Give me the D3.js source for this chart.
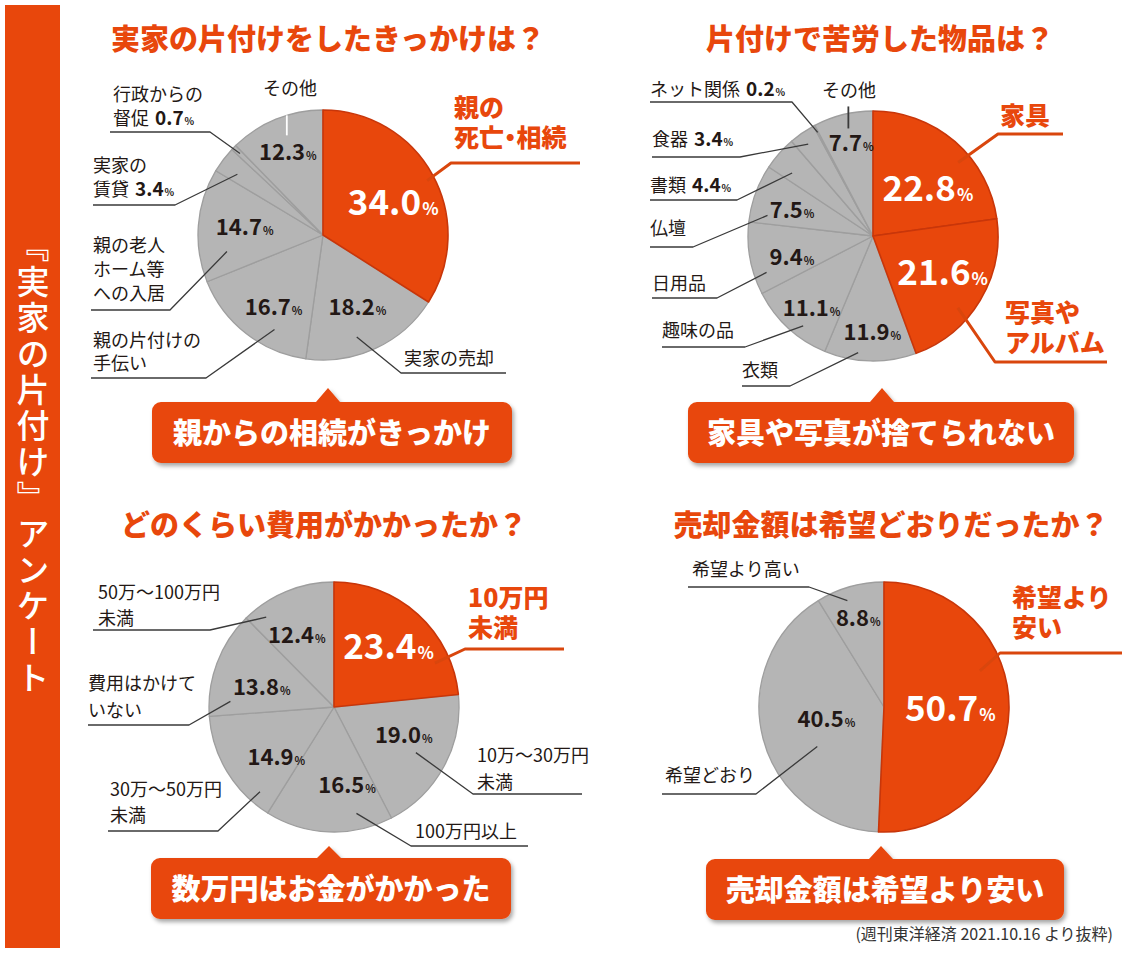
<!DOCTYPE html>
<html><head><meta charset="utf-8">
<script src="https://cdn.jsdelivr.net/npm/d3@7"></script>
<style>
html,body{margin:0;padding:0;background:#fff;}
body{position:relative;width:1125px;height:960px;overflow:hidden;}
svg{display:block;font-family:"Noto Sans CJK JP","Noto Sans",sans-serif;}
#side{position:absolute;left:5px;top:5px;width:55px;height:915px;writing-mode:vertical-rl;
  text-align:center;line-height:55px;font-family:"Noto Sans CJK JP",sans-serif;font-size:33px;
  font-weight:500;letter-spacing:3px;color:#fff;}
</style></head><body>
<svg id="c" width="1125" height="960"></svg>
<div id="side"></div>
<script>
// ---------------- data ----------------
const sideTitle = "『実家の片付け』アンケート";
const sourceNote = "(週刊東洋経済 2021.10.16 より抜粋)";

const q1Title = "実家の片付けをしたきっかけは？";
const q1Categories = ["親の\n死亡・相続","実家の売却","親の片付けの\n手伝い","親の老人\nホーム等\nへの入居","実家の\n賃貸","行政からの\n督促","その他"];
const q1Values = [34.0,18.2,16.7,14.7,3.4,0.7,12.3];
const q1Highlight = [true,false,false,false,false,false,false];
const q1Summary = "親からの相続がきっかけ";

const q2Title = "片付けで苦労した物品は？";
const q2Categories = ["家具","写真や\nアルバム","衣類","趣味の品","日用品","仏壇","書類","食器","ネット関係","その他"];
const q2Values = [22.8,21.6,11.9,11.1,9.4,7.5,4.4,3.4,0.2,7.7];
const q2Highlight = [true,true,false,false,false,false,false,false,false,false];
const q2Summary = "家具や写真が捨てられない";

const q3Title = "どのくらい費用がかかったか？";
const q3Categories = ["10万円\n未満","10万～30万円\n未満","100万円以上","30万～50万円\n未満","費用はかけて\nいない","50万～100万円\n未満"];
const q3Values = [23.4,19.0,16.5,14.9,13.8,12.4];
const q3Highlight = [true,false,false,false,false,false];
const q3Summary = "数万円はお金がかかった";

const q4Title = "売却金額は希望どおりだったか？";
const q4Categories = ["希望より\n安い","希望どおり","希望より高い"];
const q4Values = [50.7,40.5,8.8];
const q4Highlight = [true,false,false];
const q4Summary = "売却金額は希望より安い";

// ---------------- layout (positions / styles) ----------------
const ORANGE = "#e8470c", ORANGE_DARK = "#c8360a", GRAY = "#b5b5b5", GRAY_LINE = "#9e9e9e", INK = "#231815";

const q1Layout = {cx:323, cy:235, r:125, titleX:328, titleY:37,
  box:[152,402,512,463], apex:[328,388],
  valueLabel:[[0.53,0.62],[0.49,0.64],[0.44,0.70],[0.53,0.63],null,null,[0.48,0.72]],
  labels:[
    {x:454, y:[107,137], t:0.51, rf:0.94, elbow:[451,163], end:580, palt:true},
    {x:404, y:[358], t:0.6, rf:0.86, elbow:[401,373], end:506},
    {x:93, y:[340,363], t:0.32, rf:0.85, elbow:[206,378], end:91},
    {x:93, y:[245,269,293], t:0.23, rf:0.78, elbow:[170,310], end:91},
    {x:93, y:[165,189], t:0.36, rf:0.84, elbow:[175,205], end:93, withValue:true},
    {x:113, y:[94,118], t:0.5, rf:0.93, elbow:[210,132], end:110, withValue:true},
    {x:290, y:[88], middle:true, tick:{t:0.62, above:0, below:20, color:"#ffffff"}}
  ]};

const q2Layout = {cx:873, cy:236, r:125, titleX:880, titleY:37,
  box:[688,402,1074,463], apex:[882,388],
  valueLabel:[[0.6,0.58],[0.46,0.63],[0.48,0.77],[0.44,0.76],[0.38,0.67],[0.42,0.68],null,null,null,[0.52,0.76]],
  labels:[
    {x:1000, y:[115], t:0.6, rf:0.9, elbow:[998,134], end:1063},
    {x:1005, y:[312,342], t:0.62, rf:0.89, elbow:[995,362], end:1107},
    {x:742, y:[370], t:0.64, rf:0.94, elbow:[790,386], end:742},
    {x:662, y:[330], t:0.38, rf:0.91, elbow:[745,347], end:662},
    {x:652, y:[283], t:0.25, rf:0.9, elbow:[717,298], end:652},
    {x:650, y:[228], t:0.17, rf:0.86, elbow:[693,247], end:650},
    {x:650, y:[185], t:0.28, rf:0.82, elbow:[737,200], end:650, withValue:true},
    {x:652, y:[139], t:0.45, rf:0.9, elbow:[740,157], end:652, withValue:true},
    {x:650, y:[89], t:0.5, rf:0.94, elbow:[792,102], end:650, withValue:true},
    {x:849, y:[90], middle:true, tick:{t:0.59, above:7, below:15, color:"#3a3a3a"}}
  ]};

const q3Layout = {cx:334, cy:707, r:125, titleX:324, titleY:523,
  box:[151,858,511,919], apex:[329,846],
  valueLabel:[[0.5,0.65],[0.4,0.6],[0.3,0.63],[0.32,0.61],[0.4,0.6],[0.39,0.65]],
  labels:[
    {x:468, y:[597,627], t:0.79, rf:0.88, elbow:[465,649], end:564},
    {x:477, y:[755,782], t:0.51, rf:0.75, elbow:[473,794], end:582},
    {x:415, y:[831], t:0.26, rf:0.87, elbow:[411,846], end:528},
    {x:110, y:[789,815], t:0.17, rf:0.9, elbow:[218,831], end:108},
    {x:88, y:[683,710], t:0.15, rf:0.83, elbow:[189,725], end:88},
    {x:98, y:[592,618], t:0.17, rf:0.9, elbow:[210,630], end:93}
  ]};

const q4Layout = {cx:884, cy:707, r:125, titleX:891, titleY:523,
  box:[706,859,1064,920], apex:[881,846],
  valueLabel:[[0.5,0.53],[0.52,0.47],[0.49,0.74]],
  labels:[
    {x:1012, y:[597,627], t:0.38, rf:0.82, elbow:[1000,653], end:1122},
    {x:665, y:[775], t:0.39, rf:0.62, elbow:[756,794], end:662},
    {x:692, y:[569], t:0.4, rf:0.9, elbow:[809,587], end:688}
  ]};

// ---------------- drawing ----------------
const svg = d3.select("#c");
svg.append("rect").attr("width",1125).attr("height",960).attr("fill","#fff");

const defs = svg.append("defs");
const f = defs.append("filter").attr("id","shadow").attr("x","-10%").attr("y","-30%").attr("width","130%").attr("height","170%");
f.append("feDropShadow").attr("dx",2).attr("dy",3).attr("stdDeviation",2.2).attr("flood-color","#000").attr("flood-opacity",0.35);

// side bar
svg.append("rect").attr("x",5).attr("y",5).attr("width",55).attr("height",943).attr("fill",ORANGE);
d3.select("#side").text(sideTitle);

// footer
svg.append("text").attr("x",1113).attr("y",940).attr("text-anchor","end")
  .attr("font-size",16).attr("fill","#333").text(sourceNote);

function polar(L, a, rr){ return [L.cx + rr*Math.sin(a), L.cy - rr*Math.cos(a)]; }

function calloutPath(x0,y0,x1,y1,ax,ay,rad,hw){
  return `M${x0+rad},${y0} L${ax-hw},${y0} L${ax},${ay} L${ax+hw},${y0} L${x1-rad},${y0}`+
    ` A${rad},${rad} 0 0 1 ${x1},${y0+rad} L${x1},${y1-rad} A${rad},${rad} 0 0 1 ${x1-rad},${y1}`+
    ` L${x0+rad},${y1} A${rad},${rad} 0 0 1 ${x0},${y1-rad} L${x0},${y0+rad} A${rad},${rad} 0 0 1 ${x0+rad},${y0} Z`;
}

function drawPie(title, cats, vals, hi, summary, L){
  const g = svg.append("g");
  // title
  g.append("text").attr("x",L.titleX).attr("y",L.titleY).attr("text-anchor","middle")
    .attr("dominant-baseline","central").attr("font-size",29).attr("font-weight",900)
    .attr("fill",ORANGE).text(title);

  const arcs = d3.pie().sort(null).value(d=>d)(vals);
  const arc = d3.arc().innerRadius(0).outerRadius(L.r);
  const pg = g.append("g").attr("transform",`translate(${L.cx},${L.cy})`);
  const order = arcs.map((a,i)=>i).sort((a,b)=>(hi[a]?1:0)-(hi[b]?1:0));
  order.forEach(i=>{
    pg.append("path").attr("d",arc(arcs[i]))
      .attr("fill",hi[i]?ORANGE:GRAY)
      .attr("stroke",hi[i]?ORANGE_DARK:GRAY_LINE)
      .attr("stroke-width",hi[i]?1.6:1.3).attr("stroke-linejoin","round");
  });

  // value labels inside
  arcs.forEach((a,i)=>{
    const vl = L.valueLabel[i]; if(!vl) return;
    const ang = a.startAngle + vl[0]*(a.endAngle-a.startAngle);
    const p = polar(L, ang, vl[1]*L.r);
    const big = hi[i];
    const fs = big?35:22, ps = big?17:11;
    const t = g.append("text").attr("x",p[0]).attr("y",p[1]+0.36*fs)
      .attr("text-anchor","middle").attr("font-weight",700)
      .attr("fill",big?"#fff":INK);
    t.append("tspan").attr("font-size",fs).text(vals[i].toFixed(1));
    t.append("tspan").attr("font-size",ps).attr("dx",1).text("%");
  });

  // external labels + leaders
  L.labels.forEach((lb,i)=>{
    const a = arcs[i];
    const lines = cats[i].split("\n");
    const isHi = hi[i];
    const fs = isHi?25:18;
    if(lb.tick){
      const ang = a.startAngle + lb.tick.t*(a.endAngle-a.startAngle);
      const p = polar(L, ang, L.r);
      g.append("line").attr("x1",p[0]).attr("x2",p[0])
        .attr("y1",p[1]-lb.tick.above).attr("y2",p[1]+lb.tick.below)
        .attr("stroke",lb.tick.color).attr("stroke-width",1.8);
    } else {
      const ang = a.startAngle + lb.t*(a.endAngle-a.startAngle);
      const p = polar(L, ang, lb.rf*L.r);
      const pts = [p, lb.elbow, [lb.end, lb.elbow[1]]];
      g.append("path").attr("d", d3.line()(pts)).attr("fill","none")
        .attr("stroke", isHi?"#d9460d":"#3a3a3a").attr("stroke-width", isHi?3:1.3)
        .attr("stroke-linejoin","round");
    }
    const t = g.append("text")
      .attr("text-anchor", lb.middle?"middle":"start")
      .attr("font-size",fs).attr("font-weight",isHi?900:400)
      .attr("fill",isHi?ORANGE:INK)
      .style("font-feature-settings", lb.palt?'"palt"':null);
    lines.forEach((ln,j)=>{
      t.append("tspan").attr("x",lb.x).attr("y",lb.y[j]+0.38*fs).text(ln);
      if(lb.withValue && j===lines.length-1){
        t.append("tspan").attr("dx",6).attr("font-size",19).attr("font-weight",700).text(vals[i].toFixed(1));
        t.append("tspan").attr("font-size",10).attr("font-weight",700).attr("dx",1).text("%");
      }
    });
  });

  // summary callout
  const [x0,y0,x1,y1] = L.box;
  g.append("path").attr("d",calloutPath(x0,y0,x1,y1,L.apex[0],L.apex[1],9,12))
    .attr("fill",ORANGE).attr("filter","url(#shadow)");
  g.append("text").attr("x",(x0+x1)/2).attr("y",(y0+y1)/2+0.38*29)
    .attr("text-anchor","middle").attr("font-size",29).attr("font-weight",900)
    .attr("fill","#fff").text(summary);
}

drawPie(q1Title,q1Categories,q1Values,q1Highlight,q1Summary,q1Layout);
drawPie(q2Title,q2Categories,q2Values,q2Highlight,q2Summary,q2Layout);
drawPie(q3Title,q3Categories,q3Values,q3Highlight,q3Summary,q3Layout);
drawPie(q4Title,q4Categories,q4Values,q4Highlight,q4Summary,q4Layout);
</script>
</body></html>
